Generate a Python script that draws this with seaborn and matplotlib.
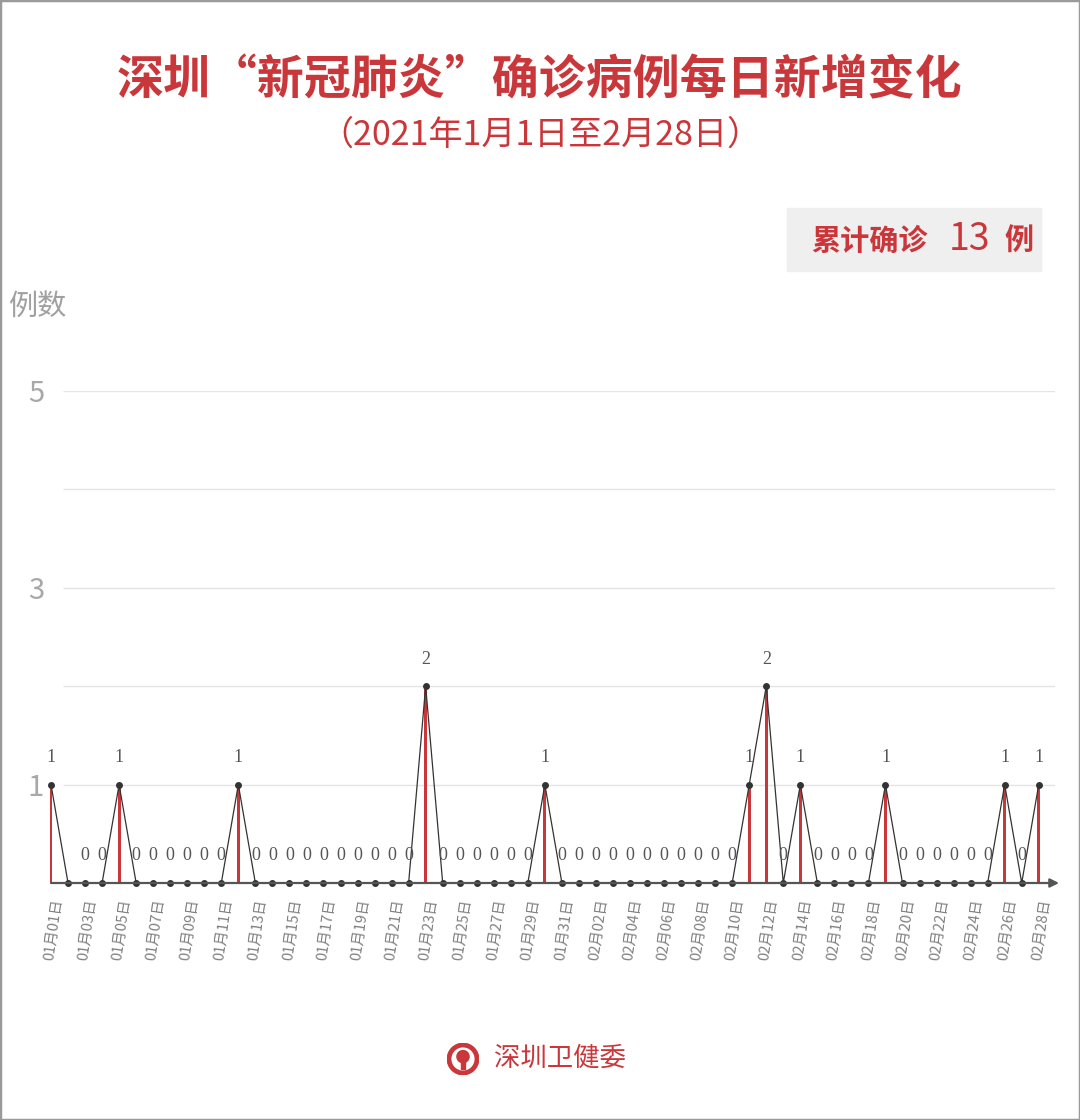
import matplotlib
matplotlib.use("Agg")
import matplotlib.pyplot as plt
from matplotlib.patches import Rectangle, Circle
import seaborn as sns
import pandas as pd

# Data: Shenzhen daily new confirmed cases, 2021-01-01 .. 2021-02-28
dates = [d.strftime("%m月%d日") for d in pd.date_range("2021-01-01", "2021-02-28")]
cases = [1, 0, 0, 0, 1, 0, 0, 0, 0, 0,
         0, 1, 0, 0, 0, 0, 0, 0, 0, 0,
         0, 0, 2, 0, 0, 0, 0, 0, 0, 1,
         0, 0, 0, 0, 0, 0, 0, 0, 0, 0,
         0, 1, 2, 0, 1, 0, 0, 0, 0, 1,
         0, 0, 0, 0, 0, 0, 1, 0, 1]
hidden_labels = ["01月02日"]   # label hidden in the original (overlaps the line)
y_ticks = [1, 3, 5]
grid_levels = [1, 2, 3, 4, 5]
total_cases = sum(cases)

title = "深圳“新冠肺炎”确诊病例每日新增变化"
subtitle = "（2021年1月1日至2月28日）"

RED = "#c9373b"
W, H = 1080, 1120

sns.set_theme(style="white")
plt.rcParams["font.family"] = ["Noto Sans CJK SC", "DejaVu Sans"]

fig = plt.figure(figsize=(W / 100, H / 100), dpi=100)
fig.patch.set_facecolor("white")

# axes: x from px 51 to 1055, y=0 at px 883, y=5 at px 391
ax = fig.add_axes([51 / W, (H - 883) / H, 1004 / W, 492 / H])
df = pd.DataFrame({"idx": range(len(dates)), "date": dates, "cases": cases})

sns.barplot(data=df, x="idx", y="cases", native_scale=True, width=0.17,
            color=RED, saturation=1, errorbar=None, linewidth=0,
            ax=ax, zorder=2)
sns.lineplot(data=df, x="idx", y="cases", color="#333333", linewidth=0.9,
             marker="o", markersize=5, markeredgewidth=0, ax=ax, zorder=3)

step = 17.03
ax.set_xlim(0, 1004 / step)
ax.set_ylim(0, 5)
ax.hlines(grid_levels, 12 / step, 1004 / step, color="#e4e4e4", lw=1, zorder=0)

for art in ax.lines + ax.patches:
    art.set_clip_on(False)

# value labels
for i, v in enumerate(cases):
    if dates[i] in hidden_labels:
        continue
    ax.annotate(str(v), (i, v), xytext=(0, 19.5), textcoords="offset points",
                ha="center", va="center", fontsize=13, color="#555555",
                family=["Liberation Sans Narrow", "Liberation Serif", "DejaVu Sans"])

ax.set_yticks(y_ticks)
ax.set_yticklabels([str(t) for t in y_ticks], fontsize=21, color="#a8a8a8",
                   fontweight="light")
ax.set_xticks(range(0, len(dates), 2))
ax.set_xticklabels(dates[::2], rotation=82, ha="right", rotation_mode="anchor",
                   fontsize=10.5, color="#808080")
ax.tick_params(axis="y", length=0, pad=5)
ax.tick_params(axis="x", length=0, pad=11)
ax.set_xlabel("")
ax.set_ylabel("")
sns.despine(ax=ax, left=True, bottom=True)

# baseline with arrow
ax.annotate("", xy=(1.004, 0), xytext=(0, 0), xycoords="axes fraction",
            arrowprops=dict(arrowstyle="-|>", color="#555555", lw=1.6,
                            mutation_scale=13, shrinkA=0, shrinkB=0))

# texts
fig.text(8 / W, 1 - 308 / H, "例数", ha="left", va="center", fontsize=21,
         color="#a0a0a0", fontweight="light")
fig.text(540 / W, 1 - 80 / H, title, ha="center", va="center", fontsize=33.8,
         fontweight="bold", color=RED)
fig.text(540 / W, 1 - 135 / H, subtitle, ha="center", va="center", fontsize=24.5,
         color=RED)

# total box
fig.add_artist(Rectangle((787 / W, (H - 271) / H), 254 / W, 63 / H,
                         transform=fig.transFigure, color="#efefef", zorder=0))
fig.text(811 / W, 1 - 241 / H, "累计确诊", ha="left", va="center", fontsize=21,
         fontweight="bold", color=RED)
fig.text(949 / W, 1 - 239 / H, str(total_cases), ha="left", va="center",
         fontsize=27, fontweight="medium", color=RED)
fig.text(1004 / W, 1 - 241 / H, "例", ha="left", va="center", fontsize=21,
         fontweight="bold", color=RED)

# footer logo + name
lax = fig.add_axes([447 / W, (H - 1075) / H, 32 / W, 32 / H])
lax.set_xlim(-1, 1)
lax.set_ylim(-1, 1)
lax.set_aspect("equal")
lax.axis("off")
lax.add_patch(Circle((0, 0), 0.98, color=RED))
lax.add_patch(Circle((0, 0), 0.68, color="white"))
lax.add_patch(Circle((0, 0.15), 0.38, color=RED))
lax.add_patch(Rectangle((-0.12, -0.6), 0.24, 0.6, color=RED))
fig.text(494 / W, 1 - 1058 / H, "深圳卫健委", ha="left", va="center",
         fontsize=19, color=RED)

# outer frame
fig.add_artist(Rectangle((0, 0), 1, 1, transform=fig.transFigure, fill=False,
                         ec="#9a9a9a", lw=2.5))

fig.savefig("out.png", dpi=100)
